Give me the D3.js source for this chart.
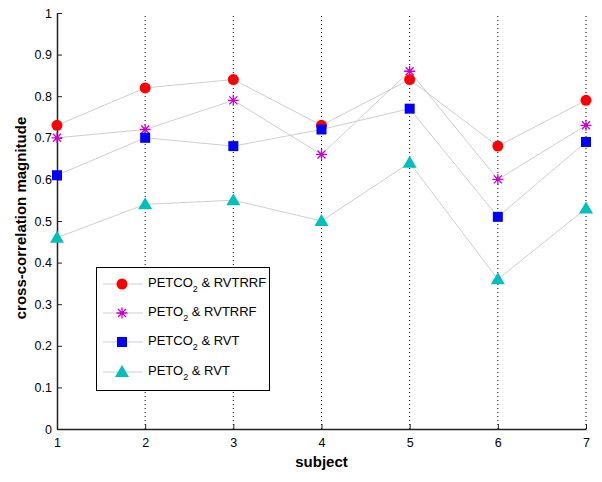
<!DOCTYPE html>
<html><head><meta charset="utf-8">
<script src="https://cdn.jsdelivr.net/npm/d3@7"></script>
<style>body{margin:0;background:#fff}svg{display:block}text{font-family:"Liberation Sans",Arial,sans-serif}</style>
</head><body><svg id="c" width="602" height="482"></svg>
<script>
const subjects = [1, 2, 3, 4, 5, 6, 7];
const petco2Rvtrrf = [0.73, 0.82, 0.84, 0.73, 0.84, 0.68, 0.79];
const peto2Rvtrrf  = [0.70, 0.72, 0.79, 0.66, 0.86, 0.60, 0.73];
const petco2Rvt    = [0.61, 0.70, 0.68, 0.72, 0.77, 0.51, 0.69];
const peto2Rvt     = [0.46, 0.54, 0.55, 0.50, 0.64, 0.36, 0.53];
const yTicks = [0, 0.1, 0.2, 0.3, 0.4, 0.5, 0.6, 0.7, 0.8, 0.9, 1];
const seriesNames = [["PETCO", "2", " & RVTRRF"], ["PETO", "2", " & RVTRRF"], ["PETCO", "2", " & RVT"], ["PETO", "2", " & RVT"]];

const series = [
  {vals: petco2Rvtrrf, marker: "circle", color: "#ff0000"},
  {vals: peto2Rvtrrf, marker: "star", color: "#cc00cc"},
  {vals: petco2Rvt, marker: "square", color: "#0000ff"},
  {vals: peto2Rvt, marker: "triangle", color: "#00bfbf"}
];

const svg = d3.select("#c");
const L = 57, R = 586, T = 13, B = 429;
const x = d3.scaleLinear().domain([1, 7]).range([L, R]);
const y = d3.scaleLinear().domain([0, 1]).range([B, T]);

// dotted grid
svg.append("g").selectAll("line").data(subjects.slice(1)).join("line")
  .attr("x1", d => x(d)).attr("x2", d => x(d)).attr("y1", y(0)).attr("y2", y(1))
  .attr("stroke", "#000").attr("stroke-width", 1).attr("stroke-dasharray", "1,3");

// axes
const xAxis = d3.axisBottom(x).tickValues(subjects).tickFormat(d3.format("d")).tickSizeInner(-5).tickSizeOuter(0).tickPadding(9);
const gx = svg.append("g").attr("transform", `translate(0,${B})`).call(xAxis);
const yAxis = d3.axisLeft(y).tickValues(yTicks).tickFormat(d => d === 0 || d === 1 ? d3.format("d")(d) : d3.format(".1f")(d)).tickSizeInner(-5).tickSizeOuter(0).tickPadding(5);
const gy = svg.append("g").attr("transform", `translate(${L},0)`).call(yAxis);
[gx, gy].forEach(g => {
  g.select(".domain").attr("stroke", "#222").attr("stroke-width", 1.5);
  g.selectAll(".tick line").attr("stroke", "#222");
  g.selectAll("text").attr("font-size", 12.5).attr("fill", "#000");
});

svg.append("text").attr("x", x(4)).attr("y", 467).attr("text-anchor", "middle")
  .attr("font-size", 15).attr("font-weight", "bold").text("subject");
svg.append("text").attr("transform", `translate(26,${y(0.5) - 3}) rotate(-90)`).attr("text-anchor", "middle")
  .attr("font-size", 15).attr("font-weight", "bold").text("cross-correlation magnitude");

function drawMarker(g, type, color) {
  if (type === "circle") g.append("circle").attr("r", 5.5).attr("fill", color);
  else if (type === "square") g.append("rect").attr("x", -5).attr("y", -5).attr("width", 10).attr("height", 10).attr("fill", color);
  else if (type === "triangle") g.append("path").attr("d", "M0,-7L7,5L-7,5Z").attr("fill", color);
  else if (type === "star") {
    const s = 5.5, d = 4;
    g.append("path").attr("d", `M${-s},0L${s},0M0,${-s}L0,${s}M${-d},${-d}L${d},${d}M${-d},${d}L${d},${-d}`)
      .attr("stroke", color).attr("stroke-width", 1.3);
    g.append("circle").attr("r", 1.8).attr("fill", color);
  }
}

const line = d3.line().x((d, i) => x(subjects[i])).y(d => y(d));
series.forEach(s => {
  svg.append("path").attr("d", line(s.vals)).attr("fill", "none").attr("stroke", "#cfcfcf").attr("stroke-width", 1);
});
series.forEach(s => {
  s.vals.forEach((v, i) => {
    const g = svg.append("g").attr("transform", `translate(${x(subjects[i])},${y(v)})`);
    drawMarker(g, s.marker, s.color);
  });
});

// legend
const lg = svg.append("g");
lg.append("rect").attr("x", 96.5).attr("y", 267.5).attr("width", 173).attr("height", 123)
  .attr("fill", "#fff").attr("stroke", "#000").attr("stroke-width", 1);
const legY = [284, 313, 342, 372];
series.forEach((s, i) => {
  lg.append("line").attr("x1", 103).attr("x2", 143).attr("y1", legY[i]).attr("y2", legY[i]).attr("stroke", "#cfcfcf");
  drawMarker(lg.append("g").attr("transform", `translate(122,${legY[i]})`), s.marker, s.color);
  const t = lg.append("text").attr("x", 148).attr("y", legY[i] + 3).attr("font-size", 13).attr("fill", "#000");
  t.append("tspan").text(seriesNames[i][0]);
  t.append("tspan").attr("dy", 5).attr("font-size", 9).text(seriesNames[i][1]);
  t.append("tspan").attr("dy", -5).text(seriesNames[i][2]);
});
</script></body></html>
